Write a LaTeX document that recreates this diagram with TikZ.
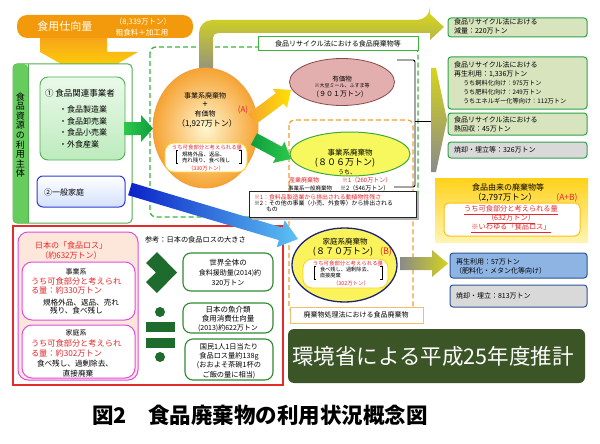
\documentclass[tikz,border=0pt]{standalone}
\usepackage{fontspec}
\setmainfont{Noto Sans CJK JP}
\usetikzlibrary{shapes.geometric,calc,fit}
\definecolor{hdrorange}{HTML}{F39A0C}
\definecolor{arrorange}{HTML}{F7A21B}
\definecolor{arryellow}{HTML}{FFE100}
\definecolor{lgreen}{HTML}{4FB04F}
\definecolor{stripg}{HTML}{66CC5E}
\definecolor{bgA}{HTML}{EAF9EA}
\definecolor{bgB}{HTML}{BDEBBD}
\definecolor{hblue}{HTML}{2B3BD0}
\definecolor{lblue}{HTML}{D3E0FF}
\definecolor{ellin}{HTML}{FFF6D0}
\definecolor{ellout}{HTML}{F6A333}
\definecolor{ellbd}{HTML}{F0A040}
\definecolor{redt}{HTML}{E6262A}
\definecolor{pinkf}{HTML}{E2AEAE}
\definecolor{pinkd}{HTML}{8B4A4A}
\definecolor{yef}{HTML}{F7F75E}
\definecolor{yed}{HTML}{3DAA3D}
\definecolor{bef}{HTML}{FAF35C}
\definecolor{bed}{HTML}{1C2478}
\definecolor{gdash}{HTML}{3CB43C}
\definecolor{odash}{HTML}{F0A030}
\definecolor{rgf}{HTML}{D7E4BD}
\definecolor{rgd}{HTML}{2EA24A}
\definecolor{grayf}{HTML}{D9D9D9}
\definecolor{bluef}{HTML}{8DB4E2}
\definecolor{blued}{HTML}{2F5597}
\definecolor{ybtop}{HTML}{FFD21A}
\definecolor{ybbot}{HTML}{FFF4B3}
\definecolor{dgreen}{HTML}{3B5526}
\definecolor{redbox}{HTML}{E52A2A}
\definecolor{pinkbox}{HTML}{FDE6DA}
\definecolor{magen}{HTML}{E04CE0}
\definecolor{chev}{HTML}{1E6B2E}
\definecolor{gboxc}{HTML}{2E8B2E}
\definecolor{olivey}{HTML}{D4D41E}
\definecolor{grayarr}{HTML}{8A8A8A}
\definecolor{garrA}{HTML}{2DC84A}
\definecolor{garrB}{HTML}{0E9E3E}
\definecolor{barrA}{HTML}{0A22C8}
\definecolor{barrB}{HTML}{5CC2F2}
\newcommand\fz[2]{\fontsize{#1}{#2}\selectfont}
\newcommand\barrow[6]{%
  \coordinate (hb) at ($(#2)!#5!(#1)$);
  \path[#6] ($(#1)!#3!90:(#2)$) -- ($(hb)!#3!-90:(#1)$) -- ($(hb)!#4!-90:(#1)$) -- (#2) -- ($(hb)!#4!90:(#1)$) -- ($(hb)!#3!90:(#1)$) -- ($(#1)!#3!-90:(#2)$) -- cycle;}
\begin{document}
\begin{tikzpicture}[x=1pt,y=-1pt,
  every node/.style={inner sep=0pt,outer sep=0pt},
  rgbox/.style={draw=rgd,line width=1pt,fill=rgf,rounded corners=3pt},
  gbox/.style={draw=gboxc,line width=1.1pt,fill=white,rounded corners=8pt},
  mbox/.style={draw=magen,line width=1pt,fill=white,rounded corners=10pt},
  lw/.style={anchor=west}]
\path[use as bounding box,fill=white] (0,0) rectangle (600,444);

% dashed frames
\draw[gdash,line width=1.3pt,dash pattern=on 5pt off 3pt,rounded corners=6pt] (150,47) rectangle (418,217);
\draw[odash,line width=1.2pt,dash pattern=on 5pt off 3pt,rounded corners=5pt] (289,120) rectangle (413,312);
\node[fit={(258,37)(418,51)},draw=gdash,line width=1pt,fill=white] (glab) {};
\node[font=\fz{7}{8}] (glabt) at (338,44) {食品リサイクル法における食品廃棄物等};

% big bent arrow
\path[top color=olivey,bottom color=grayarr] (199,78) [rounded corners=13pt]-- (199,20) -- (430,20) [sharp corners]-- (430,14) -- (444,27) -- (430,40) -- (430,33) [rounded corners=5pt]-- (213,33) [sharp corners]-- (213,78) -- cycle;

% header + down arrow
\path[top color=arrorange,bottom color=arryellow] (40,36) -- (107,36) -- (107,52) -- (138,52) -- (89,80) -- (40,52) -- cycle;
\node[fit={(17,15)(193,38)},fill=hdrorange,rounded corners=10pt] (hdr) {};
\node[font=\fz{11}{13},text=white] (hdrt) at (65,26.5) {食用仕向量};
\node[font=\fz{7.5}{9},text=white] (hdra) at (143,22) {（8,339万トン）};
\node[font=\fz{7.5}{9},text=white] (hdrb) at (142,33) {粗食料＋加工用};

% left box
\node[fit={(13,64)(132,223)},draw=lgreen,line width=1pt,fill=white,rounded corners=4pt] (lbox) {};
\path[fill=stripg,rounded corners=4pt] (28,223) -- (13,223) -- (13,64) -- (28,64) [sharp corners]-- cycle;
\draw[lgreen,line width=1pt] (28,64) -- (28,223);
\node[font=\fz{9}{9.6},align=center] (vt) at (20.5,135) {食\\品\\資\\源\\の\\利\\用\\主\\体};
\node[fit={(40,77)(125,160)},draw=lgreen,line width=0.9pt,rounded corners=8pt,top color=bgA,bottom color=bgB] (lb1) {};
\node[lw,font=\fz{8.5}{10}] (lb1a) at (45,93) {① 食品関連事業者};
\node[lw,font=\fz{8}{9}] (lb1b) at (59,109) {・食品製造業};
\node[lw,font=\fz{8}{9}] (lb1c) at (59,121) {・食品卸売業};
\node[lw,font=\fz{8}{9}] (lb1d) at (59,132) {・食品小売業};
\node[lw,font=\fz{8}{9}] (lb1e) at (59,144) {・外食産業};
\node[fit={(37,176)(125,207)},draw=hblue,line width=1pt,rounded corners=6pt,top color=white,bottom color=lblue] (lb2) {};
\node[lw,font=\fz{8}{9}] (lb2t) at (44,192) {②一般家庭};

% green arrow left -> ellipse
\coordinate (ga0) at (124,128.5);
\coordinate (ga1) at (153,128.5);
\barrow{ga0}{ga1}{6.5pt}{13.5pt}{12pt}{left color=garrA,right color=garrB}

% orange ellipse
\node[ellipse,minimum width=105pt,minimum height=120pt,inner color=ellin,outer color=ellout,draw=ellbd,line width=0.8pt] (oe) at (205.5,128) {};
\node[font=\fz{7}{8}] (oe1) at (205,96) {事業系廃棄物};
\node[font=\fz{9}{9}] (oe2) at (205,105) {+};
\node[font=\fz{7}{8}] (oe3) at (205,114) {有価物};
\node[font=\fz{8}{9}] (oe4) at (207,124) {（1,927万トン）};
\node[fit={(165,143)(247,172)},fill=white,draw=ybtop,line width=0.8pt,rounded corners=9pt] (oeb) {};
\node[font=\fz{5.4}{6},text=redt] (oeb1) at (207,147) {うち可食部分と考えられる量};
\node[lw,font=\fz{5.4}{6}] (oeb2) at (182,154) {規格外品、返品、};
\node[lw,font=\fz{5.4}{6}] (oeb3) at (182,160.5) {売れ残り、食べ残し};
\node[font=\fz{5.4}{6},text=redt] (oeb4) at (206,168) {（330万トン）};
\draw[line width=0.5pt] (178,150) -- (176,150) -- (176,163.5) -- (178,163.5);
\draw[line width=0.5pt] (239,150) -- (241,150) -- (241,163.5) -- (239,163.5);
\node[font=\fz{8}{9},text=redt] (lblA) at (243,110) {(A)};

% arrows from orange ellipse
\coordinate (oa0) at (252,119);
\coordinate (oa1) at (291,90);
\barrow{oa0}{oa1}{6.5pt}{12pt}{14pt}{left color=ellout,right color=arryellow}
\coordinate (gb0) at (254,139);
\coordinate (gb1) at (291,159);
\barrow{gb0}{gb1}{6.5pt}{12pt}{14pt}{left color=garrB,right color=garrA}

% pink ellipse
\node[ellipse,minimum width=105pt,minimum height=47pt,fill=pinkf,draw=pinkd,line width=0.8pt] (pe) at (342,82) {};
\node[font=\fz{6.5}{7}] (pe1) at (342,79) {有価物};
\node[font=\fz{5}{6}] (pe2) at (342,86) {※大豆ミール、ふすま等};
\node[font=\fz{7}{8}] (pe3) at (340,94) {(９０１万トン)};

% yellow ellipse
\node[ellipse,minimum width=120pt,minimum height=44pt,fill=yef,draw=yed,line width=1pt] (ye) at (350,154) {};
\node[font=\fz{7.5}{8}] (ye1) at (350,153) {事業系廃棄物};
\node[font=\fz{9}{10}] (ye2) at (345,163) {(８０６万トン)};
\node[font=\fz{6}{7}] (ye3) at (347,172.5) {うち、};
\node[lw,font=\fz{6}{7},text=redt] (ye4) at (289,180) {産業廃棄物};
\node[lw,font=\fz{6}{7},text=redt] (ye5) at (342,180) {※1（260万トン）};
\node[lw,font=\fz{5.5}{6.5}] (ye6) at (288,188) {事業系一般廃棄物};
\node[lw,font=\fz{6}{7}] (ye7) at (340,188) {※2（546万トン）};

% bracket
\draw[line width=0.9pt,rounded corners=2pt] (397,60) -- (415,60) -- (415,187) -- (394,187);
\coordinate (brm) at (415,121);
\coordinate (bre) at (433,121);
\draw[line width=0.9pt] (brm) -- (bre);

% red region
\node[fit={(13,226)(283,385)},draw=redbox,line width=1.2pt] (rbox) {};
\node[fit={(18,232)(138,380)},draw=magen,line width=1pt,fill=pinkbox,rounded corners=10pt] (pbox) {};
\node[font=\fz{8}{9},text=redt] (pb1) at (71,245) {日本の「食品ロス」};
\node[font=\fz{8}{9},text=redt] (pb2) at (71,255) {（約632万トン）};
\node[fit={(22,262)(135,320)},mbox] (m1) {};
\node[font=\fz{7}{8}] (m1a) at (76,272) {事業系};
\node[lw,font=\fz{8.2}{9},text=redt] (m1b) at (31,281.5) {うち可食部分と考えられ};
\node[lw,font=\fz{8.2}{9},text=redt] (m1c) at (31,290.5) {る量：約330万トン};
\node[lw,font=\fz{7.6}{8}] (m1d) at (43,303) {規格外品、返品、売れ};
\node[lw,font=\fz{7.6}{8}] (m1e) at (50,311) {残り、食べ残し};
\node[fit={(22,325)(135,378)},mbox] (m2) {};
\node[font=\fz{7}{8}] (m2a) at (76,333) {家庭系};
\node[lw,font=\fz{8.2}{9},text=redt] (m2b) at (31,343) {うち可食部分と考えられ};
\node[lw,font=\fz{8.2}{9},text=redt] (m2c) at (31,353) {る量：約302万トン};
\node[lw,font=\fz{7.6}{8}] (m2d) at (37,364) {食べ残し、過剰除去、};
\node[font=\fz{7.6}{8}] (m2e) at (78,374) {直接廃棄};
\node[lw,font=\fz{7.2}{8}] (ref) at (145,240) {参考：日本の食品ロスの大きさ};
\path[fill=chev] (146,263) -- (157,252) -- (177,272.5) -- (157,293) -- (146,282) -- (156,272.5) -- cycle;
\node[circle,fill=chev,minimum size=10pt] (eqd1) at (160,312) {};
\node[fit={(146,321.5)(175,332)},fill=chev] (eqb1) {};
\node[fit={(146,337.5)(175,348)},fill=chev] (eqb2) {};
\node[circle,fill=chev,minimum size=10pt] (eqd2) at (160,357) {};
\node[fit={(183,253)(273,291)},gbox] (g1) {};
\node[font=\fz{7.5}{8}] (g1a) at (228,263) {世界全体の};
\node[font=\fz{7}{8}] (g1b) at (230,273) {食料援助量(2014)約};
\node[font=\fz{7}{8}] (g1c) at (228,283) {320万トン};
\node[fit={(183,303)(273,333)},gbox] (g2) {};
\node[font=\fz{7.5}{8}] (g2a) at (228,309.5) {日本の魚介類};
\node[font=\fz{7.5}{8}] (g2b) at (228,319) {食用消費仕向量};
\node[font=\fz{7}{8}] (g2c) at (228,328) {(2013)約622万トン};
\node[fit={(185,339)(273,380)},gbox] (g3) {};
\node[font=\fz{7.2}{8}] (g3a) at (229,346.5) {国民1人1日当たり};
\node[font=\fz{7.2}{8}] (g3b) at (229,356) {食品ロス量約138g};
\node[font=\fz{7.2}{8}] (g3c) at (229,365.5) {(おおよそ茶碗1杯の};
\node[font=\fz{7.2}{8}] (g3d) at (229,375) {ご飯の量に相当)};

% blue arrow
\coordinate (ba0) at (130,189);
\coordinate (ba1) at (298,239);
\barrow{ba0}{ba1}{6.5pt}{14pt}{18pt}{left color=barrA,right color=barrB}

% notes box
\path[fill=gray!60] (252,194) rectangle (419,220);
\node[fit={(249,191)(416,217)},draw=gray!30!black,line width=0.8pt,fill=white] (notes) {};
\node[lw,font=\fz{5.9}{7},text=redt] (n1) at (254,197.5) {※1：食料品製造業から排出される動植物性残さ};
\node[lw,font=\fz{5.9}{7}] (n2) at (254,203.5) {※2：その他の事業（小売、外食等）から排出される};
\node[lw,font=\fz{5.9}{7}] (n3) at (266,209.5) {もの};

% blue-bordered ellipse
\node[ellipse,minimum width=105pt,minimum height=74pt,fill=bef,draw=bed,line width=1.3pt] (be) at (344.5,265) {};
\node[font=\fz{7.5}{8}] (be1) at (345,242) {家庭系廃棄物};
\node[font=\fz{9}{10}] (be2) at (343,251.5) {(８７０万トン)};
\node[font=\fz{9}{10},text=redt] (lblB) at (386,252) {(B)};
\node[fit={(303,259)(388,288)},fill=white,draw=ybtop,line width=0.8pt,rounded corners=9pt] (beb) {};
\node[font=\fz{5.4}{6},text=redt] (beb1) at (348,263) {うち可食部分と考えられる量};
\node[lw,font=\fz{5.2}{6}] (beb2) at (320,269.5) {食べ残し、過剰除去、};
\node[lw,font=\fz{5.2}{6}] (beb3) at (320,276) {直接廃棄};
\node[font=\fz{5.4}{6},text=redt] (beb4) at (351,283.5) {（302万トン）};
\draw[line width=0.5pt] (316,266) -- (314,266) -- (314,279) -- (316,279);
\draw[line width=0.5pt] (380,266) -- (382,266) -- (382,279) -- (380,279);
\node[fit={(290,307)(423,323)},draw=odash!70,line width=1pt,fill=white] (olab) {};
\node[font=\fz{7}{8}] (olabt) at (356,315) {廃棄物処理法における食品廃棄物};

% olive arrow
\coordinate (oa2) at (400,263.5);
\coordinate (oa3) at (448,263.5);
\barrow{oa2}{oa3}{6.5pt}{13.5pt}{16pt}{left color=grayarr,right color=olivey}

% vertical chevron
\path[top color=olivey,bottom color=grayarr] (431,68) -- (436,68) -- (447,120) -- (436,172) -- (431,172) -- cycle;

% right column
\node[fit={(448,18)(587,37)},rgbox] (r1) {};
\node[lw,font=\fz{7}{8}] (r1a) at (454,22) {食品リサイクル法における};
\node[lw,font=\fz{7}{8}] (r1b) at (454,31) {減量：220万トン};
\node[fit={(448,57)(587,109)},rgbox] (r2) {};
\node[lw,font=\fz{7}{8}] (r2a) at (454,65) {食品リサイクル法における};
\node[lw,font=\fz{7}{8}] (r2b) at (454,74) {再生利用：1,336万トン};
\node[lw,font=\fz{6.2}{7}] (r2c) at (463,83.5) {うち飼料化向け：975万トン};
\node[lw,font=\fz{6.2}{7}] (r2d) at (463,92) {うち肥料化向け：249万トン};
\node[lw,font=\fz{6.2}{7}] (r2e) at (463,101) {うちエネルギー化等向け：112万トン};
\node[fit={(448,113)(587,135)},rgbox] (r3) {};
\node[lw,font=\fz{7}{8}] (r3a) at (454,120) {食品リサイクル法における};
\node[lw,font=\fz{7}{8}] (r3b) at (454,129) {熱回収：45万トン};
\node[fit={(448,142)(587,158)},rgbox,fill=grayf] (r4) {};
\node[lw,font=\fz{7}{8}] (r4a) at (454,150) {焼却・埋立等：326万トン};

% yellow total box
\node[fit={(435,178)(588,242)},top color=ybtop,bottom color=ybbot] (yb) {};
\node[font=\fz{8}{9}] (yb1) at (508,187) {食品由来の廃棄物等};
\node[font=\fz{8.5}{9}] (yb2) at (505,197.5) {（2,797万トン）};
\node[font=\fz{8.5}{9},text=redt] (yb3) at (567,197.5) {(A+B)};
\node[fit={(444,203)(580,236)},fill=white,draw=ybtop!80!orange,line width=1pt,rounded corners=5pt] (ybi) {};
\node[font=\fz{7.2}{8},text=redt] (ybi1) at (511,210) {\underline{うち可食部分と考えられる量}};
\node[font=\fz{7.2}{8},text=redt] (ybi2) at (511,219) {\underline{（632万トン）}};
\node[font=\fz{7.2}{8},text=redt] (ybi3) at (511,228) {\underline{※いわゆる「食品ロス」}};

% blue / gray bottom-right
\node[fit={(450,253)(587,278)},draw=blued,line width=1pt,fill=bluef,rounded corners=3pt] (b1) {};
\node[lw,font=\fz{7}{8}] (b1a) at (456,262) {再生利用：57万トン};
\node[lw,font=\fz{7}{8}] (b1b) at (455,271) {（肥料化・メタン化等向け）};
\node[fit={(450,285)(587,307)},draw=blued,line width=1pt,fill=grayf,rounded corners=3pt] (b2) {};
\node[lw,font=\fz{7}{8}] (b2a) at (456,296) {焼却・埋立：813万トン};

% dark green box
\node[fit={(288,329)(585,383)},fill=dgreen,rounded corners=6pt] (dg) {};
\node[font=\fz{21.5}{24},text=white] (dgt) at (433,356) {環境省による平成25年度推計};

% title
\node[font=\fz{21.5}{24}\bfseries] (title) at (260,415) {図2　食品廃棄物の利用状況概念図};
\end{tikzpicture}
\end{document}
